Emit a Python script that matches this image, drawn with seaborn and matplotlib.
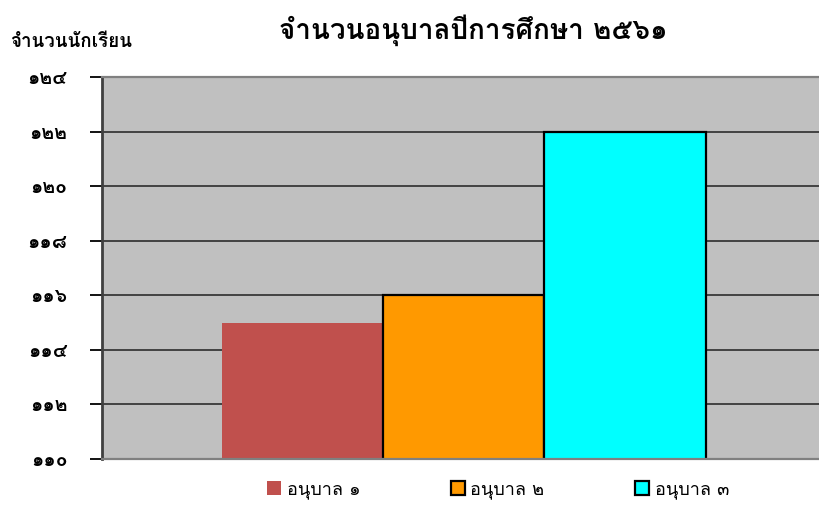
"""Kindergarten student counts, academic year 2561"""
import matplotlib
matplotlib.use("Agg")
import matplotlib.pyplot as plt
import numpy as np
import pandas as pd
import seaborn as sns
from matplotlib.patches import Patch

# data
levels = ["อนุบาล ๑", "อนุบาล ๒", "อนุบาล ๓"]
students = [115, 116, 122]
bar_colors = ["#C0504D", "#FF9900", "#00FFFF"]
edge_widths = [0, 1.6, 1.6]
yticks = np.arange(110, 125, 2)

THAI_DIGITS = str.maketrans("0123456789", "๐๑๒๓๔๕๖๗๘๙")


def to_thai(v):
    """Arabic -> Thai numerals"""
    return str(int(v)).translate(THAI_DIGITS)


sns.set_theme(style="white")
plt.rcParams["font.family"] = ["Loma", "DejaVu Sans"]
plt.rcParams["text.color"] = "black"

df = pd.DataFrame({"level": levels, "students": students})

fig = plt.figure(figsize=(8.19, 5.05), dpi=100)
ax = fig.add_axes([102 / 819, 1 - 459 / 505, 1 - 102 / 819, (459 - 77) / 505])
ax.set_facecolor("#C0C0C0")

sns.barplot(data=df, x="level", y="students", hue="level", palette=bar_colors,
            saturation=1, width=1, legend=False, ax=ax)
for patch, lw in zip(ax.patches, edge_widths):
    patch.set_edgecolor("black")
    patch.set_linewidth(lw)

ax.set_ylim(110, 124)
ax.set_xlim(-1.242, 3.202)
ax.set_yticks(yticks, [to_thai(v) for v in yticks], fontweight="bold")
ax.set_xticks([])
ax.set_xlabel("")
ax.set_ylabel("")
ax.yaxis.grid(True, color="#202020", linewidth=1.1)
ax.set_axisbelow(True)
ax.tick_params(axis="y", direction="out", left=True, length=9, width=1.3,
               color="black", labelsize=14, pad=16, labelcolor="black")

ax.spines["right"].set_visible(False)
ax.spines["left"].set_color("#404040")
ax.spines["left"].set_linewidth(2)
for side in ("top", "bottom"):
    ax.spines[side].set_color("#808080")
    ax.spines[side].set_linewidth(1.6)

fig.text(473 / 819, 1 - 30 / 505, "จำนวนอนุบาลปีการศึกษา ๒๕๖๑", ha="center",
         va="center", fontsize=20, fontweight="bold")
fig.text(10 / 819, 1 - 42 / 505, "จำนวนนักเรียน", ha="left", va="center",
         fontsize=13.5, fontweight="bold")

handles = [Patch(facecolor=c, edgecolor="black", linewidth=lw)
           for c, lw in zip(bar_colors, edge_widths)]
fig.legend(handles, levels, loc="center", ncol=3, frameon=False,
           bbox_to_anchor=(498 / 819, 1 - 490 / 505), fontsize=13,
           handlelength=0.8, handleheight=0.8, handletextpad=0.3,
           columnspacing=5.0)

fig.savefig("out.png", dpi=100)
